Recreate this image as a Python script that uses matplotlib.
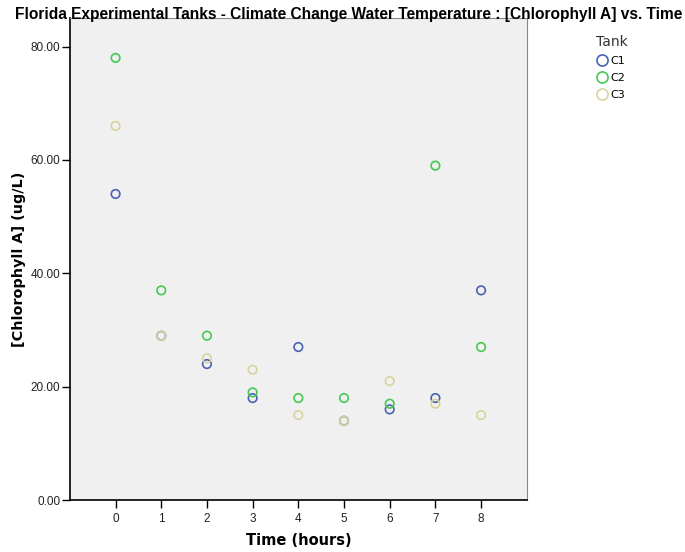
import numpy as np
import matplotlib.pyplot as plt
from matplotlib.lines import Line2D
from matplotlib.ticker import FormatStrFormatter

hours = [0, 1, 2, 3, 4, 5, 6, 7, 8]
c1 = [54, 29, 24, 18, 27, 14, 16, 18, 37]
c2 = [78, 37, 29, 19, 18, 18, 17, 59, 27]
c3 = [66, 29, 25, 23, 15, 14, 21, 17, 15]
tanks = ['C1', 'C2', 'C3']
colors = ['#4a62b4', '#46c855', '#d8d39e']

fig = plt.figure(figsize=(6.85, 5.52), dpi=100)
ax = fig.add_axes([0.102, 0.094, 0.667, 0.873])
ax.set_facecolor('#f0f0f0')

for vals, col in zip([c1, c2, c3], colors):
    ax.scatter(hours, vals, s=38, facecolors='none', edgecolors=col, linewidths=1.2, zorder=3)

ax.set_xlim(-1, 9)
ax.set_ylim(0, 85)
ax.set_xticks(hours)
ax.set_yticks([0, 20, 40, 60, 80])
ax.yaxis.set_major_formatter(FormatStrFormatter('%.2f'))
ax.tick_params(labelsize=8.5, length=5.5, width=1, colors='black', labelcolor='#222222')
ax.tick_params(axis='y', pad=1.5)
for lab in ax.get_xticklabels() + ax.get_yticklabels():
    lab.set_family(['Liberation Sans', 'DejaVu Sans'])
for s in ['top', 'right']:
    ax.spines[s].set_color('#888888')
for s in ['left', 'bottom']:
    ax.spines[s].set_linewidth(1.2)

ax.set_xlabel('Time (hours)', fontsize=10.5, fontweight='bold', labelpad=6)
ax.set_ylabel('[Chlorophyll A] (ug/L)', fontsize=10.4, fontweight='bold', labelpad=3)

fig.text(0.509, 0.988, 'Florida Experimental Tanks - Climate Change Water Temperature : [Chlorophyll A] vs. Time',
         ha='center', va='top', fontsize=11.2, fontweight='bold', family=['Liberation Sans', 'DejaVu Sans'])

handles = [Line2D([], [], marker='o', linestyle='none', markerfacecolor='none',
                  markeredgecolor=c, markersize=8, markeredgewidth=1.2) for c in colors]
leg = fig.legend(handles, tanks, title='Tank', loc='upper left', bbox_to_anchor=(0.855, 0.955),
                 frameon=False, fontsize=8, title_fontsize=10, handletextpad=0.1,
                 labelspacing=0.62, handlelength=1.2)
leg._legend_box.align = 'left'
leg.get_title().set_color('#333333')

fig.savefig('out.png', dpi=100)
